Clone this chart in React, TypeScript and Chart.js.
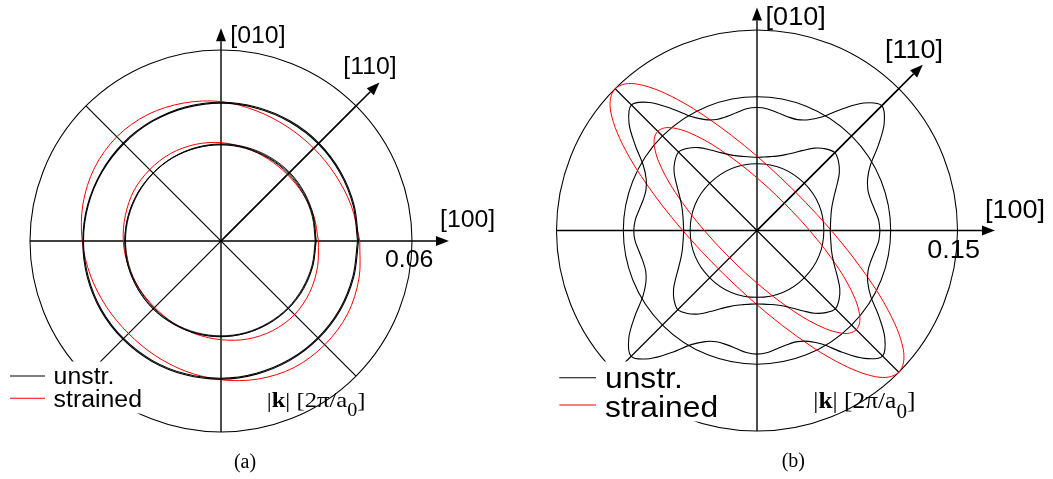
import { useEffect, useRef } from 'react';
import { Chart, registerables } from 'chart.js';

Chart.register(...registerables);

const SANS = '"Liberation Sans", Arial, Helvetica, sans-serif';
const SERIF = '"Liberation Serif", "Times New Roman", serif';
const BLACK = '#000000';
const RED = '#ff0000';

const LEGEND_LABELS = ['unstr.', 'strained'];

// Polar angles (degrees, counter-clockwise from [100])
const ANGLES_15 = [0, 15, 30, 45, 60, 75, 90, 105, 120, 135, 150, 165, 180, 195, 210, 225, 240, 255, 270, 285, 300, 315, 330, 345];

const ANGLES_5 = [
  0, 5, 10, 15, 20, 25, 30, 35, 40, 45, 50, 55, 60, 65, 70, 75, 80, 85,
  90, 95, 100, 105, 110, 115, 120, 125, 130, 135, 140, 145, 150, 155, 160, 165, 170, 175,
  180, 185, 190, 195, 200, 205, 210, 215, 220, 225, 230, 235, 240, 245, 250, 255, 260, 265,
  270, 275, 280, 285, 290, 295, 300, 305, 310, 315, 320, 325, 330, 335, 340, 345, 350, 355,
];

const ELLIPSE_ANGLES = [
  45, 60, 75, 90, 105, 115, 120, 125, 129, 132, 135, 138, 141, 145, 150, 155, 165, 180, 195, 210,
  225, 240, 255, 270, 285, 295, 300, 305, 309, 312, 315, 318, 321, 325, 330, 335, 345, 360, 375, 390,
];

// (a) |k| in 2π/a0 at ANGLES_15
const A_UNSTR_OUTER_1 = [0.0429, 0.0430, 0.0431, 0.0432, 0.0432, 0.0432, 0.0433, 0.0433, 0.0433, 0.0432, 0.0432, 0.0432, 0.0432, 0.0432, 0.0433, 0.0433, 0.0433, 0.0432, 0.0431, 0.0430, 0.0430, 0.0430, 0.0430, 0.0429];
const A_UNSTR_OUTER_2 = [0.0432, 0.0433, 0.0434, 0.0435, 0.0435, 0.0435, 0.0436, 0.0436, 0.0435, 0.0435, 0.0434, 0.0434, 0.0434, 0.0435, 0.0436, 0.0436, 0.0436, 0.0435, 0.0434, 0.0433, 0.0433, 0.0433, 0.0433, 0.0432];
const A_UNSTR_INNER_1 = [0.0296, 0.0297, 0.0298, 0.0299, 0.0300, 0.0301, 0.0302, 0.0302, 0.0302, 0.0301, 0.0300, 0.0300, 0.0300, 0.0299, 0.0298, 0.0298, 0.0298, 0.0298, 0.0298, 0.0298, 0.0297, 0.0297, 0.0296, 0.0296];
const A_UNSTR_INNER_2 = [0.0298, 0.0299, 0.0301, 0.0302, 0.0302, 0.0303, 0.0303, 0.0303, 0.0303, 0.0302, 0.0302, 0.0302, 0.0302, 0.0302, 0.0301, 0.0301, 0.0300, 0.0300, 0.0300, 0.0300, 0.0299, 0.0299, 0.0298, 0.0298];
const A_UNSTR_INNER_3 = [0.0299, 0.0301, 0.0303, 0.0305, 0.0305, 0.0305, 0.0305, 0.0304, 0.0303, 0.0302, 0.0302, 0.0302, 0.0302, 0.0302, 0.0302, 0.0302, 0.0301, 0.0301, 0.0301, 0.0300, 0.0300, 0.0300, 0.0300, 0.0299];
const A_STR_OUTER = [0.0436, 0.0424, 0.0415, 0.0412, 0.0415, 0.0424, 0.0438, 0.0449, 0.0459, 0.0463, 0.0459, 0.0449, 0.0436, 0.0424, 0.0415, 0.0411, 0.0415, 0.0424, 0.0436, 0.0449, 0.0459, 0.0461, 0.0459, 0.0449];
const A_STR_INNER = [0.0306, 0.0302, 0.0297, 0.0295, 0.0297, 0.0302, 0.0309, 0.0314, 0.0317, 0.0317, 0.0316, 0.0311, 0.0307, 0.0302, 0.0297, 0.0295, 0.0298, 0.0303, 0.0310, 0.0319, 0.0325, 0.0327, 0.0322, 0.0314];

// (b) |k| in 2π/a0 at ANGLES_5
const B_UNSTR_OUTER = [
  0.0920, 0.0913, 0.0894, 0.0881, 0.0883, 0.0913, 0.0980, 0.1107, 0.1242, 0.1320, 0.1245, 0.1110, 0.0982, 0.0914, 0.0883, 0.0881, 0.0894, 0.0913,
  0.0920, 0.0914, 0.0895, 0.0882, 0.0884, 0.0915, 0.0984, 0.1112, 0.1250, 0.1328, 0.1250, 0.1112, 0.0984, 0.0915, 0.0884, 0.0882, 0.0895, 0.0914,
  0.0922, 0.0915, 0.0896, 0.0884, 0.0886, 0.0917, 0.0986, 0.1115, 0.1252, 0.1332, 0.1252, 0.1115, 0.0986, 0.0917, 0.0886, 0.0884, 0.0896, 0.0916,
  0.0925, 0.0916, 0.0896, 0.0883, 0.0885, 0.0915, 0.0983, 0.1112, 0.1249, 0.1328, 0.1248, 0.1111, 0.0982, 0.0914, 0.0884, 0.0882, 0.0895, 0.0914,
];
const B_UNSTR_INNER = [
  0.0548, 0.0552, 0.0561, 0.0576, 0.0602, 0.0640, 0.0692, 0.0752, 0.0797, 0.0823, 0.0797, 0.0752, 0.0692, 0.0640, 0.0602, 0.0576, 0.0561, 0.0552,
  0.0548, 0.0552, 0.0562, 0.0578, 0.0604, 0.0643, 0.0696, 0.0757, 0.0803, 0.0830, 0.0803, 0.0757, 0.0696, 0.0643, 0.0604, 0.0578, 0.0562, 0.0553,
  0.0549, 0.0553, 0.0563, 0.0579, 0.0606, 0.0646, 0.0700, 0.0762, 0.0810, 0.0838, 0.0810, 0.0762, 0.0700, 0.0646, 0.0606, 0.0579, 0.0563, 0.0553,
  0.0550, 0.0553, 0.0562, 0.0577, 0.0603, 0.0642, 0.0695, 0.0756, 0.0802, 0.0829, 0.0802, 0.0756, 0.0695, 0.0642, 0.0603, 0.0577, 0.0562, 0.0552,
];
// (b) strained bands at ELLIPSE_ANGLES
const B_STR_OUTER = [
  0.0407, 0.0420, 0.0464, 0.0556, 0.0737, 0.0954, 0.1105, 0.1277, 0.1407, 0.1475,
  0.1500, 0.1475, 0.1407, 0.1277, 0.1105, 0.0954, 0.0737, 0.0556, 0.0464, 0.0420,
  0.0407, 0.0420, 0.0464, 0.0556, 0.0737, 0.0954, 0.1105, 0.1277, 0.1407, 0.1475,
  0.1500, 0.1475, 0.1407, 0.1277, 0.1105, 0.0954, 0.0737, 0.0556, 0.0464, 0.0420,
];
const B_STR_INNER = [
  0.0289, 0.0298, 0.0330, 0.0394, 0.0522, 0.0674, 0.0779, 0.0898, 0.0986, 0.1033,
  0.1050, 0.1033, 0.0986, 0.0898, 0.0779, 0.0674, 0.0522, 0.0394, 0.0330, 0.0298,
  0.0289, 0.0298, 0.0330, 0.0394, 0.0522, 0.0674, 0.0779, 0.0898, 0.0986, 0.1033,
  0.1050, 0.1033, 0.0986, 0.0898, 0.0779, 0.0674, 0.0522, 0.0394, 0.0330, 0.0298,
];

type Curve = { label: string; angles: number[]; radii: number[]; color: string; width: number };
type Pt = [number, number];

type PanelSpec = {
  left: number;
  width: number;
  height: number;
  origin: Pt; // canvas pixel of k = 0
  outerK: number;
  outerPx: number;
  rings: number[];
  ringLabel: string;
  tipX: number;
  tipY: number;
  tip110: number;
  curves: Curve[];
  axisFont: number;
  legendFont: number;
  unitFont: number;
  captionFont: number;
  stretch: number;
  unitStretch: number;
  pos010: Pt;
  pos110: Pt;
  pos100: Pt;
  posRing: Pt;
  legendBox: [number, number, number, number];
  legendLineX: Pt;
  legendLineY: Pt;
  legendTextX: number;
  legendBaseY: Pt;
  posUnit: Pt;
  posCaption: Pt;
  caption: string;
};

const PANEL_A: PanelSpec = {
  left: 0,
  width: 526,
  height: 479,
  origin: [221, 241],
  outerK: 0.06,
  outerPx: 191,
  rings: [0.06],
  ringLabel: '0.06',
  tipX: 0.0716,
  tipY: 0.0668,
  tip110: 0.0704,
  curves: [
    { label: LEGEND_LABELS[0], angles: ANGLES_15, radii: A_UNSTR_OUTER_1, color: BLACK, width: 1.1 },
    { label: LEGEND_LABELS[0], angles: ANGLES_15, radii: A_UNSTR_OUTER_2, color: BLACK, width: 1.1 },
    { label: LEGEND_LABELS[0], angles: ANGLES_15, radii: A_UNSTR_INNER_1, color: BLACK, width: 0.9 },
    { label: LEGEND_LABELS[0], angles: ANGLES_15, radii: A_UNSTR_INNER_2, color: BLACK, width: 0.9 },
    { label: LEGEND_LABELS[0], angles: ANGLES_15, radii: A_UNSTR_INNER_3, color: BLACK, width: 0.9 },
    { label: LEGEND_LABELS[1], angles: ANGLES_15, radii: A_STR_OUTER, color: RED, width: 1 },
    { label: LEGEND_LABELS[1], angles: ANGLES_15, radii: A_STR_INNER, color: RED, width: 1 },
  ],
  axisFont: 23,
  legendFont: 23,
  unitFont: 22,
  captionFont: 20,
  stretch: 1.08,
  unitStretch: 1.12,
  pos010: [9.3, -197.7],
  pos110: [122.3, -167],
  pos100: [219, -14.4],
  posRing: [164, 25.7],
  legendBox: [-221, 120.5, 150, 52],
  legendLineX: [-211, -176],
  legendLineY: [135, 157.3],
  legendTextX: -167.4,
  legendBaseY: [143, 166.3],
  posUnit: [45.7, 165.7],
  posCaption: [24, 226.5],
  caption: '(a)',
};

const PANEL_B: PanelSpec = {
  left: 526,
  width: 527,
  height: 479,
  origin: [231, 230.5],
  outerK: 0.15,
  outerPx: 200.5,
  rings: [0.05, 0.1, 0.15],
  ringLabel: '0.15',
  tipX: 0.178,
  tipY: 0.1668,
  tip110: 0.1754,
  curves: [
    { label: LEGEND_LABELS[0], angles: ANGLES_5, radii: B_UNSTR_OUTER, color: BLACK, width: 1.1 },
    { label: LEGEND_LABELS[0], angles: ANGLES_5, radii: B_UNSTR_INNER, color: BLACK, width: 1.1 },
    { label: LEGEND_LABELS[1], angles: ELLIPSE_ANGLES, radii: B_STR_OUTER, color: RED, width: 1 },
    { label: LEGEND_LABELS[1], angles: ELLIPSE_ANGLES, radii: B_STR_INNER, color: RED, width: 1 },
  ],
  axisFont: 25.5,
  legendFont: 30,
  unitFont: 24,
  captionFont: 20,
  stretch: 1.06,
  unitStretch: 1.06,
  pos010: [8.6, -205.5],
  pos110: [128, -172.2],
  pos100: [228, -12.2],
  posRing: [170.3, 27.8],
  legendBox: [-209, 131, 180, 60],
  legendLineX: [-197.7, -161],
  legendLineY: [147.2, 174.5],
  legendTextX: -152,
  legendBaseY: [157.2, 186.2],
  posUnit: [56.3, 177.8],
  posCaption: [36.3, 236.3],
  caption: '(b)',
};

function polarPoints(angles: number[], radii: number[]) {
  const pts = angles.map((deg, i) => {
    const t = (deg * Math.PI) / 180;
    return { x: radii[i] * Math.cos(t), y: radii[i] * Math.sin(t) };
  });
  pts.push({ ...pts[0] });
  return pts;
}

function stretchedText(ctx: CanvasRenderingContext2D, s: string, x: number, y: number, font: string, sx: number, align: CanvasTextAlign = 'left') {
  ctx.save();
  ctx.font = font;
  ctx.textAlign = align;
  ctx.textBaseline = 'alphabetic';
  ctx.translate(x, y);
  ctx.scale(sx, 1);
  ctx.fillText(s, 0, 0);
  ctx.restore();
}

function unitLabel(ctx: CanvasRenderingContext2D, x: number, y: number, size: number, sx: number) {
  const parts = [
    { s: '|', f: `${size}px ${SERIF}`, dy: 0 },
    { s: 'k', f: `bold ${size}px ${SERIF}`, dy: 0 },
    { s: '| [2π/a', f: `${size}px ${SERIF}`, dy: 0 },
    { s: '0', f: `${Math.round(size * 0.82)}px ${SERIF}`, dy: size * 0.4 },
    { s: ']', f: `${size}px ${SERIF}`, dy: 0 },
  ];
  ctx.save();
  ctx.textBaseline = 'alphabetic';
  ctx.textAlign = 'left';
  ctx.translate(x, y);
  ctx.scale(sx, 1);
  let cx = 0;
  for (const p of parts) {
    ctx.font = p.f;
    ctx.fillText(p.s, cx, p.dy);
    cx += ctx.measureText(p.s).width;
  }
  ctx.restore();
}

function makeFramePlugin(spec: PanelSpec) {
  const polar = (chart: Chart, k: number, deg: number): Pt => {
    const t = (deg * Math.PI) / 180;
    return [chart.scales.x.getPixelForValue(k * Math.cos(t)), chart.scales.y.getPixelForValue(k * Math.sin(t))];
  };
  const line = (ctx: CanvasRenderingContext2D, a: Pt, b: Pt) => {
    ctx.beginPath();
    ctx.moveTo(a[0], a[1]);
    ctx.lineTo(b[0], b[1]);
    ctx.stroke();
  };
  const arrow = (ctx: CanvasRenderingContext2D, a: Pt, b: Pt, head = 13, half = 5) => {
    const ang = Math.atan2(b[1] - a[1], b[0] - a[0]);
    const bx = b[0] - head * Math.cos(ang);
    const by = b[1] - head * Math.sin(ang);
    line(ctx, a, [bx, by]);
    ctx.beginPath();
    ctx.moveTo(b[0], b[1]);
    ctx.lineTo(bx + half * Math.sin(ang), by - half * Math.cos(ang));
    ctx.lineTo(bx - half * Math.sin(ang), by + half * Math.cos(ang));
    ctx.closePath();
    ctx.fill();
  };

  return {
    id: 'kFrame',
    beforeDatasetsDraw(chart: Chart) {
      const ctx = chart.ctx;
      const [ox, oy] = polar(chart, 0, 0);
      ctx.save();
      ctx.strokeStyle = BLACK;
      ctx.fillStyle = BLACK;
      ctx.lineWidth = 1.05;
      for (const k of spec.rings) {
        const r = chart.scales.x.getPixelForValue(k) - ox;
        ctx.beginPath();
        ctx.arc(ox, oy, r, 0, Math.PI * 2);
        ctx.stroke();
      }
      ctx.lineWidth = 1.15;
      line(ctx, polar(chart, spec.outerK, 135), polar(chart, spec.outerK, 315));
      line(ctx, polar(chart, spec.outerK, 225), polar(chart, spec.outerK, 45));
      ctx.lineWidth = 1.4;
      arrow(ctx, polar(chart, spec.outerK, 180), polar(chart, spec.tipX, 0));
      arrow(ctx, polar(chart, spec.outerK, 270), polar(chart, spec.tipY, 90));
      ctx.lineWidth = 1.6;
      arrow(ctx, [ox, oy], polar(chart, spec.tip110, 45));
      ctx.restore();
    },
    afterDatasetsDraw(chart: Chart) {
      const ctx = chart.ctx;
      const [ox, oy] = polar(chart, 0, 0);
      ctx.save();
      // legend
      const [bx, by, bw, bh] = spec.legendBox;
      ctx.fillStyle = '#ffffff';
      ctx.fillRect(ox + bx, oy + by, bw, bh);
      const legendColors = [BLACK, RED];
      LEGEND_LABELS.forEach((label, i) => {
        ctx.strokeStyle = legendColors[i];
        ctx.lineWidth = 1.1;
        const ly = oy + spec.legendLineY[i];
        line(ctx, [ox + spec.legendLineX[0], ly], [ox + spec.legendLineX[1], ly]);
        ctx.fillStyle = BLACK;
        stretchedText(ctx, label, ox + spec.legendTextX, oy + spec.legendBaseY[i], `${spec.legendFont}px ${SANS}`, spec.stretch);
      });
      ctx.fillStyle = BLACK;
      const af = `${spec.axisFont}px ${SANS}`;
      stretchedText(ctx, '[010]', ox + spec.pos010[0], oy + spec.pos010[1], af, spec.stretch);
      stretchedText(ctx, '[110]', ox + spec.pos110[0], oy + spec.pos110[1], af, spec.stretch);
      stretchedText(ctx, '[100]', ox + spec.pos100[0], oy + spec.pos100[1], af, spec.stretch);
      stretchedText(ctx, spec.ringLabel, ox + spec.posRing[0], oy + spec.posRing[1], af, spec.stretch);
      unitLabel(ctx, ox + spec.posUnit[0], oy + spec.posUnit[1], spec.unitFont, spec.unitStretch);
      stretchedText(ctx, spec.caption, ox + spec.posCaption[0], oy + spec.posCaption[1], `${spec.captionFont}px ${SERIF}`, 1, 'center');
      ctx.restore();
    },
  };
}

function PolarPanel({ spec }: { spec: PanelSpec }) {
  const ref = useRef<HTMLCanvasElement>(null);
  useEffect(() => {
    const canvas = ref.current;
    if (!canvas) return;
    const ppu = spec.outerPx / spec.outerK;
    const [ox, oy] = spec.origin;
    const chart = new Chart(canvas, {
      type: 'scatter',
      data: {
        datasets: spec.curves.map((c) => ({
          label: c.label,
          data: polarPoints(c.angles, c.radii),
          showLine: true,
          borderColor: c.color,
          backgroundColor: c.color,
          borderWidth: c.width,
          pointRadius: 0,
          pointHoverRadius: 0,
          tension: 0.33,
          fill: false,
        })),
      },
      options: {
        responsive: false,
        maintainAspectRatio: false,
        animation: false,
        events: [],
        layout: { padding: 0, autoPadding: false },
        scales: {
          x: { type: 'linear', display: false, min: -ox / ppu, max: (spec.width - ox) / ppu },
          y: { type: 'linear', display: false, min: -(spec.height - oy) / ppu, max: oy / ppu },
        },
        plugins: { legend: { display: false }, tooltip: { enabled: false } },
      },
      plugins: [makeFramePlugin(spec)],
    });
    return () => chart.destroy();
  }, [spec]);
  return (
    <canvas
      ref={ref}
      width={spec.width}
      height={spec.height}
      style={{ position: 'absolute', left: spec.left, top: 0, width: spec.width, height: spec.height, display: 'block' }}
    />
  );
}

export default function App() {
  return (
    <div style={{ position: 'fixed', left: 0, top: 0, width: 1053, height: 479, background: '#ffffff', overflow: 'hidden' }}>
      <PolarPanel spec={PANEL_A} />
      <PolarPanel spec={PANEL_B} />
    </div>
  );
}
